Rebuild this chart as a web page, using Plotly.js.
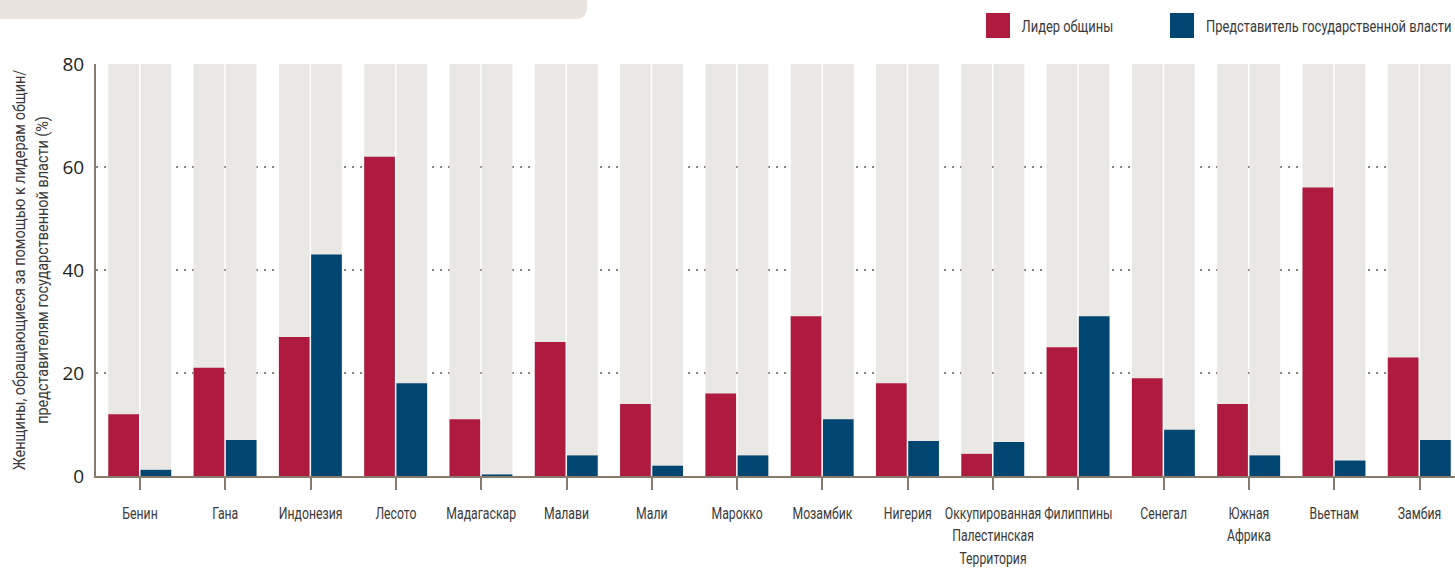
<!DOCTYPE html>
<html>
<head>
<meta charset="utf-8">
<script src="https://cdn.plot.ly/plotly-3.0.1.min.js"></script>
<style>
html, body { margin: 0; padding: 0; background: #ffffff; }
#chart { width: 1455px; height: 573px; }
</style>
</head>
<body>
<div id="chart"></div>
<script>
const categories = ["Бенин", "Гана", "Индонезия", "Лесото", "Мадагаскар", "Малави", "Мали", "Марокко", "Мозамбик", "Нигерия", "Оккупированная<br>Палестинская<br>Территория", "Филиппины", "Сенегал", "Южная<br>Африка", "Вьетнам", "Замбия"];
const communityLeader = [12, 21, 27, 62, 11, 26, 14, 16, 31, 18, 4.3, 25, 19, 14, 56, 23];
const stateOfficial = [1.2, 7, 43, 18, 0.3, 4, 2, 4, 11, 6.8, 6.6, 31, 9, 4, 3, 7];
const fullScale = categories.map(() => 80);
const seriesNames = ["Лидер общины", "Представитель государственной власти"];
const yTicks = [0, 20, 40, 60, 80];

const RED = "#ae1b3f", BLUE = "#004670", GREY = "#e9e8e4", AXIS = "#877b6e";
const W = 1455, H = 573, ML = 96, MR = 0, MT = 64, MB = 97;
const PW = W - ML - MR, PH = H - MT - MB;
const px = x => (x - ML) / PW;
const py = y => (H - MB - y) / PH;

const barW = 0.36, offR = -0.372, offB = 0.006;
const narrow = "Roboto, 'Liberation Sans', 'DejaVu Sans', sans-serif";

const traces = [
  {type: "bar", x: categories, y: fullScale, offset: offR, width: barW, marker: {color: GREY, line: {width: 0}}, hoverinfo: "skip", showlegend: false},
  {type: "bar", x: categories, y: fullScale, offset: offB, width: barW, marker: {color: GREY, line: {width: 0}}, hoverinfo: "skip", showlegend: false},
  {type: "bar", name: seriesNames[0], x: categories, y: communityLeader, offset: offR, width: barW, marker: {color: RED, line: {width: 0}}, showlegend: false},
  {type: "bar", name: seriesNames[1], x: categories, y: stateOfficial, offset: offB, width: barW, marker: {color: BLUE, line: {width: 0}}, showlegend: false}
];

const bx0 = px(0), bx1 = px(587), byT = py(-2), byB = py(19);
const rx = 12 / PW, ry = 12 / PH;
const boxPath = `M ${bx0},${byT} L ${bx1},${byT} L ${bx1},${byB + ry} Q ${bx1},${byB} ${bx1 - rx},${byB} L ${bx0},${byB} Z`;

const layout = {
  width: W, height: H,
  margin: {l: ML, r: MR, t: MT, b: MB, pad: 0},
  paper_bgcolor: "#ffffff", plot_bgcolor: "#ffffff",
  barmode: "overlay",
  showlegend: false,
  xaxis: {
    type: "category",
    range: [-0.516, 15.416],
    showline: true, linecolor: AXIS, linewidth: 2,
    ticks: "outside", ticklen: 12, tickwidth: 2, tickcolor: AXIS,
    showgrid: false, zeroline: false,
    tickangle: 0,
    tickfont: {family: narrow, size: 17, color: "#3a3a3a"},
    ticklabelstandoff: 9
  },
  yaxis: {
    range: [0, 80],
    tickvals: yTicks, ticktext: yTicks.map(String),
    showline: true, linecolor: AXIS, linewidth: 2,
    ticks: "", zeroline: false,
    showgrid: true, gridcolor: "#8c8278", gridwidth: 2, griddash: "2px,6px",
    tickfont: {family: "'Open Sans', 'Noto Sans', sans-serif", size: 19, color: "#231f20"},
    ticklabelstandoff: 6,
    title: {text: "Женщины, обращающиеся за помощью к лидерам общин/<br>представителям государственной власти (%)", font: {family: narrow, size: 17, color: "#3a3a3a"}, standoff: 10}
  },
  shapes: [
    {type: "path", xref: "paper", yref: "paper", path: boxPath, fillcolor: "#e8e3df", line: {width: 0}, layer: "above"},
    {type: "rect", xref: "paper", yref: "paper", x0: px(986), x1: px(1010), y0: py(38), y1: py(13), fillcolor: RED, line: {width: 0}},
    {type: "rect", xref: "paper", yref: "paper", x0: px(1170), x1: px(1194), y0: py(38), y1: py(13), fillcolor: BLUE, line: {width: 0}}
  ],
  annotations: [
    {xref: "paper", yref: "paper", x: px(1067), y: py(26), xanchor: "center", yanchor: "middle", showarrow: false, text: seriesNames[0], font: {family: narrow, size: 17, color: "#3a3a3a"}},
    {xref: "paper", yref: "paper", x: px(1329), y: py(26), xanchor: "center", yanchor: "middle", showarrow: false, text: seriesNames[1], font: {family: narrow, size: 17, color: "#3a3a3a"}}
  ]
};

// narrow the (middle-anchored) texts horizontally around their anchor, to mimic the condensed typeface
function condense(selector, factor) {
  document.querySelectorAll(selector).forEach(t => {
    const cx = parseFloat(t.getAttribute("x")) || 0;
    const cy = parseFloat(t.getAttribute("y")) || 0;
    const prev = t.getAttribute("transform") || "";
    t.setAttribute("transform", `${prev} translate(${cx},${cy}) scale(${factor},1) translate(${-cx},${-cy})`.trim());
  });
}

Plotly.newPlot("chart", traces, layout, {displayModeBar: false, staticPlot: true}).then(() => {
  condense("#chart .xtick text", 0.72);
  condense("#chart .g-ytitle text", 0.85);
  condense("#chart .annotation-text", 0.76);
});
</script>
</body>
</html>
